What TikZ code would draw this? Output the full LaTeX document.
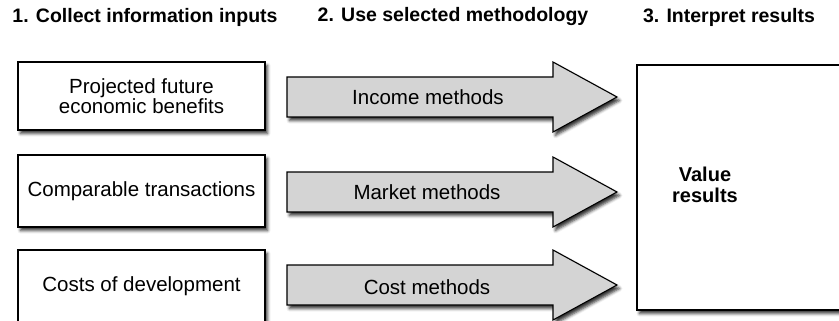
\documentclass[tikz,border=0pt]{standalone}
\usepackage{fontspec}
\setmainfont{Liberation Sans}
\usetikzlibrary{shadows.blur}
\definecolor{arrgray}{HTML}{D4D4D4}
\begin{document}
\begin{tikzpicture}[x=1pt,y=-1pt,
  shade/.style={blur shadow={shadow xshift=2.5pt, shadow yshift=-3.5pt, shadow blur radius=3pt, shadow opacity=80}},
  box/.style={draw=black, line width=1.1pt, fill=white, shade, inner sep=0pt, align=center,
    font=\fontsize{20.5}{20}\selectfont},
  head/.style={font=\fontsize{19.5}{22}\selectfont\bfseries, inner sep=0pt},
  arr/.style={draw=black, line width=1.1pt, fill=arrgray, line join=miter, shade},
  lbl/.style={font=\fontsize{20.5}{22}\selectfont, inner sep=0pt},
  res/.style={font=\fontsize{20}{21}\selectfont\bfseries, align=center, inner sep=0pt}]
\useasboundingbox (0,0) rectangle (839,321);
\clip (0,0) rectangle (839,321);
% headers
\node[head] (h1) at (145,17) {1. Collect information inputs};
\node[head] (h2) at (453,17) {2. Use selected methodology};
\node[head] (h3) at (729,17) {3. Interpret results};
% left boxes
\node[box, minimum width=247pt, minimum height=68pt] (b1) at (141.5,96) {Projected future\\economic benefits};
\node[box, minimum width=247pt, minimum height=72pt] (b2) at (141.5,191) {Comparable transactions};
\node[box, minimum width=247pt, minimum height=72pt] (b3) at (141.5,286) {Costs of development};
% result box
\node[box, minimum width=225pt, minimum height=245pt] (r) at (749.5,187.5) {};
\node[res] (rt) at (705,185) {Value\\results};
% arrows
\coordinate (s1) at (287,97);
\coordinate (s2) at (287,192);
\coordinate (s3) at (287,285);
\foreach \s in {s1,s2,s3}{
  \draw[arr, shift={(\s)}] (0,-20) -- (266,-20) -- (266,-35) -- (330,0) -- (266,35) -- (266,20) -- (0,20) -- cycle;
}
\node[lbl] (l1) at (428,97) {Income methods};
\node[lbl] (l2) at (427,192) {Market methods};
\node[lbl] (l3) at (427,287) {Cost methods};
\end{tikzpicture}
\end{document}
